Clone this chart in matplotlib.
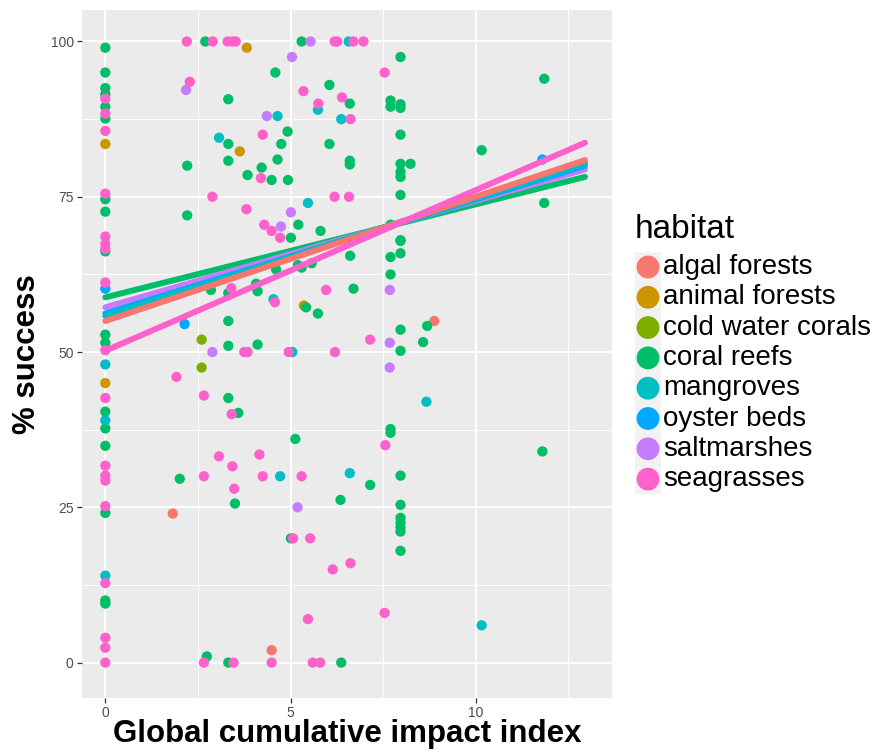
import matplotlib
matplotlib.use("Agg")
import matplotlib.pyplot as plt
from matplotlib.patches import Rectangle

plt.rcParams["font.family"] = ["Liberation Sans", "DejaVu Sans"]

# ---- data ------------------------------------------------------------------
habitats = ["algal forests", "animal forests", "cold water corals", "coral reefs",
            "mangroves", "oyster beds", "saltmarshes", "seagrasses"]
colors = ["#F8766D", "#CD9600", "#7CAE00", "#00BE67",
          "#00BFC4", "#00A9FF", "#C77CFF", "#FF61CC"]

algal_x = [1.82, 4.49, 8.88]
algal_y = [24, 2, 55]

animal_x = [0, 0, 3.82, 3.63, 5.36]
animal_y = [83.5, 45, 99, 82.3, 57.5]

cold_x = [2.6, 2.6]
cold_y = [52, 47.5]

coral_x = [0, 0, 0, 0, 0, 0, 0, 0, 0, 0, 0, 0, 0, 0, 0, 0, 0,
           2.7, 3.32, 3.32, 2.21, 3.32, 3.84, 2.21, 5.3, 7.97, 4.59, 6.05, 6.6,
           7.7, 7.7, 7.97, 7.97, 4.92, 4.75, 6.05, 7.97, 4.65, 6.6, 6.6, 7.97,
           8.24, 7.97, 7.97, 4.22, 4.49, 4.93, 7.97, 5.21, 5.01, 5.81, 7.7, 7.97,
           11.85, 10.16, 11.85, 2.85, 3.32, 4.07, 4.11, 3.32, 3.32, 4.11, 6.61,
           7.7, 7.97, 7.97, 7.7, 5.2, 5.3, 5.57, 4.61, 6.7, 5.42, 5.74, 7.97,
           8.69, 8.58, 7.97, 7.7, 7.7, 5.13, 3.32, 3.59, 2.01, 3.5, 2.74, 3.32,
           7.15, 7.97, 6.35, 7.97, 7.97, 7.97, 7.97, 7.97, 7.97, 5.01, 6.37, 11.8]
coral_y = [99, 95, 92.5, 91.5, 89.5, 87.6, 74.6, 72.6, 66.2, 52.8, 51.5, 40.4,
           37.7, 34.9, 24.1, 10, 9.5,
           100, 90.7, 83.5, 80, 80.8, 78.5, 72, 100, 97.5, 95, 93, 90,
           90.5, 89.5, 89.9, 89.3, 85.5, 83.5, 83.5, 85, 81, 80.8, 80.2, 80.3,
           80.3, 79, 78.2, 79.7, 77.7, 77.7, 75.3, 70.5, 68.4, 69.5, 70.5, 68,
           94, 82.5, 74, 60, 59.5, 61, 59.8, 55, 51, 51.2, 65.5,
           65.3, 65.9, 67.9, 62.5, 64, 63.6, 64.3, 63.3, 60.2, 57.2, 56.2, 53.6,
           54.2, 51.6, 50.2, 37.6, 37, 36, 42.6, 40.2, 29.6, 25.6, 1, 0,
           28.6, 30.1, 26.2, 25.4, 23.3, 22.5, 21.8, 21.1, 18, 20, 0, 34]

mangrove_x = [3.07, 4.65, 5.74, 6.37, 6.57, 5.47, 0, 0, 0, 4.54, 5.05, 8.67,
              4.72, 6.6, 10.16]
mangrove_y = [84.5, 88, 89, 87.5, 100, 74, 48, 39, 14, 58.5, 50, 42,
              30, 30.5, 6]

oyster_x = [0, 2.14, 11.8]
oyster_y = [60.2, 54.5, 81]

saltmarsh_x = [2.18, 5.54, 5.04, 4.36, 5.01, 4.74, 2.89, 7.68, 7.68, 7.68, 5.19]
saltmarsh_y = [92.2, 100, 97.5, 88, 72.5, 70.2, 50, 60, 51.5, 47.5, 25]

seagrass_x = [0, 0, 0, 0, 0, 0, 0, 0, 0, 0, 0, 0, 0, 0, 0, 0, 0, 0,
              2.2, 2.9, 3.3, 3.43, 3.52, 2.28, 2.89, 3.81, 4.2, 4.25, 4.29, 4.49,
              4.72, 6.19, 6.26, 6.7, 6.97, 7.54, 5.35, 5.75, 6.39, 6.62, 6.19,
              6.58, 3.4, 1.92, 2.66, 3.75, 3.84, 3.41, 4.58, 5.96, 7.15, 4.95,
              6.2, 7.56, 2.66, 3.07, 3.43, 4.16, 4.25, 3.48, 5.3, 5.07, 5.53,
              6.62, 6.14, 7.54, 5.47, 2.66, 3.46, 4.49, 5.6, 5.8]
seagrass_y = [90.8, 88.4, 85.6, 75.5, 68.6, 67.4, 66.6, 61.2, 50.3, 42.6, 31.7,
              30.1, 29.3, 25.2, 12.8, 4, 2.4, 0,
              100, 100, 100, 100, 100, 93.5, 75, 73, 78, 85, 70.5, 69.5,
              68.4, 100, 100, 100, 100, 95, 92, 90, 91, 87.5, 75,
              75, 60.3, 46, 43, 50, 50, 40, 58, 60, 52, 50,
              50, 35, 30, 33.2, 31.6, 33.5, 30, 28, 30, 20, 20,
              16, 15, 8, 7, 0, 0, 0, 0, 0]

# fitted lm lines: value at x = 0 and at the right end of the data range
fit_x = [0, 12.95]
fit_algal = [55.0, 80.9]
fit_coral = [58.8, 78.2]
fit_mangrove = [55.8, 80.4]
fit_oyster = [56.2, 80.0]
fit_saltmarsh = [57.2, 79.4]
fit_seagrass = [50.2, 83.7]

xticks = [0, 5, 10]
yticks = [0, 25, 50, 75, 100]

points = [(algal_x, algal_y), (animal_x, animal_y), (cold_x, cold_y),
          (coral_x, coral_y), (mangrove_x, mangrove_y), (oyster_x, oyster_y),
          (saltmarsh_x, saltmarsh_y), (seagrass_x, seagrass_y)]
fits = [(fit_coral, colors[3]), (fit_saltmarsh, colors[6]),
        (fit_oyster, colors[5]), (fit_mangrove, colors[4]),
        (fit_algal, colors[0]), (fit_seagrass, colors[7])]

# ---- figure -----------------------------------------------------------------
W, H = 874, 752
fig = plt.figure(figsize=(W / 100, H / 100), dpi=100)
ax = fig.add_axes([82 / W, 1 - 698 / H, (612 - 82) / W, (698 - 10) / H])
ax.set_facecolor("#EBEBEB")
for s in ax.spines.values():
    s.set_visible(False)

ax.set_xlim(-0.63, 13.68)
ax.set_ylim(-5.7, 105.07)
ax.set_xticks(xticks)
ax.set_yticks(yticks)
ax.set_xticks([2.5, 7.5, 12.5], minor=True)
ax.set_yticks([12.5, 37.5, 62.5, 87.5], minor=True)
ax.grid(True, which="major", color="white", lw=1.4)
ax.grid(True, which="minor", color="white", lw=0.7)
ax.set_axisbelow(True)
ax.tick_params(which="major", length=3.5, width=0.9, color="#333333",
               labelsize=10, labelcolor="#4D4D4D", pad=2.5)
ax.tick_params(which="minor", length=0)

for (xs, ys), c in zip(points, colors):
    ax.scatter(xs, ys, s=55, color=c, edgecolors="none", zorder=2)

for ys, c in fits:
    ax.plot(fit_x, ys, color=c, lw=4.3, solid_capstyle="round", zorder=3)

ax.set_xlabel("Global cumulative impact index", fontsize=22.5,
              fontweight="bold", labelpad=-1)
ax.set_ylabel("% success", fontsize=22.5, fontweight="bold", labelpad=6)

# ---- legend (ggplot style) -------------------------------------------------
lax = fig.add_axes([0, 0, 1, 1])
lax.set_xlim(0, W)
lax.set_ylim(H, 0)
lax.axis("off")
row0, step = 267, 30.3
lax.add_patch(Rectangle((635, row0 - step / 2), 26, step * len(habitats),
                        facecolor="#F2F2F2", edgecolor="none"))
lax.text(635, 229, "habitat", fontsize=24, va="center", ha="left")
for i, (h, c) in enumerate(zip(habitats, colors)):
    y = row0 + step * i
    lax.scatter([648], [y], s=270, color=c, edgecolors="none")
    lax.text(663, y, h, fontsize=20, va="center", ha="left")

fig.savefig("out.png", dpi=100)
